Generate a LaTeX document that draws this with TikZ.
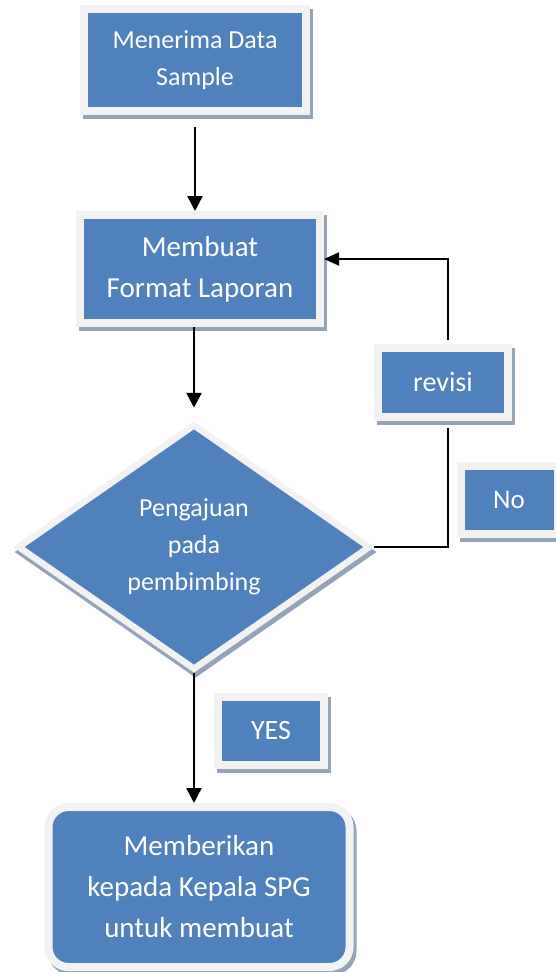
\documentclass[tikz,border=0pt]{standalone}
\usepackage{fontspec}
\setmainfont{Carlito}
\usetikzlibrary{positioning,calc,shapes.geometric,arrows.meta}
\definecolor{boxblue}{HTML}{4F81BD}
\definecolor{boxrim}{HTML}{F2F2F2}
\definecolor{boxshade}{HTML}{95A3B8}

\begin{document}
\begin{tikzpicture}[x=1pt,y=-1pt,
		blok/.style={draw=boxrim, fill=boxblue, line width=8pt, text=white, align=center, inner sep=0pt,
			preaction={draw=boxshade, fill=boxshade, transform canvas={xshift=3pt,yshift=-4pt}}},
		ruit/.style={draw=boxrim, fill=boxblue, line width=6.5pt, text=white, align=center, inner sep=0pt, diamond,
			preaction={draw=boxshade, fill=boxshade, transform canvas={xshift=1.5pt,yshift=-5pt}}},
		pijl/.style={line width=2.5pt, -{Triangle[width=15pt,length=15pt]}},
		garis/.style={line width=1.7pt}]
				\useasboundingbox (0,0) rectangle (555,972);
				\node[blok, minimum width=222pt, minimum height=102pt, font=\fontsize{26}{37}\selectfont] (terima) at (195,60) {Menerima Data\\Sample};
				\node[blok, minimum width=240pt, minimum height=108pt, font=\fontsize{29}{41}\selectfont] (format) at (200,269) {Membuat\\Format Laporan};
				\node[ruit, minimum width=353pt, minimum height=246pt, font=\fontsize{26}{37}\selectfont] (aju) at (194,547) {Pengajuan\\pada\\pembimbing};
				\node[blok, minimum width=130pt, minimum height=69pt, font=\fontsize{28}{34}\selectfont] (revisi) at (443,382) {revisi};
				\node[blok, minimum width=97pt, minimum height=68pt, font=\fontsize{27}{32}\selectfont] (no) at (509,500) {No};
				\node[blok, minimum width=106pt, minimum height=68pt, font=\fontsize{28}{34}\selectfont] (yes) at (271,731) {YES};
				\node[blok, rounded corners=20pt, minimum width=301pt, minimum height=160pt, font=\fontsize{29}{41}\selectfont] (kepala) at (199,887) {Memberikan\\kepada Kepala SPG\\untuk membuat};
				\coordinate (bawah) at (448,547);
				\coordinate (atas) at (448,259);
				\draw[pijl, shorten <=12pt] (terima.south) -- (terima.south |- format.north);
				\draw[pijl, shorten >=13pt] (format.south -| aju.north) -- (aju.north);
				\draw[pijl] (aju.south) -- (aju.south |- kepala.north);
				\draw[garis, shorten >=7pt] (aju.east) -- (bawah) -- (bawah |- revisi.south);
				\draw[garis, -{Triangle[width=13pt,length=15pt]}, shorten <=3.5pt] (atas |- revisi.north) -- (atas) -- (format.east |- atas);
			\end{tikzpicture}
\end{document}
